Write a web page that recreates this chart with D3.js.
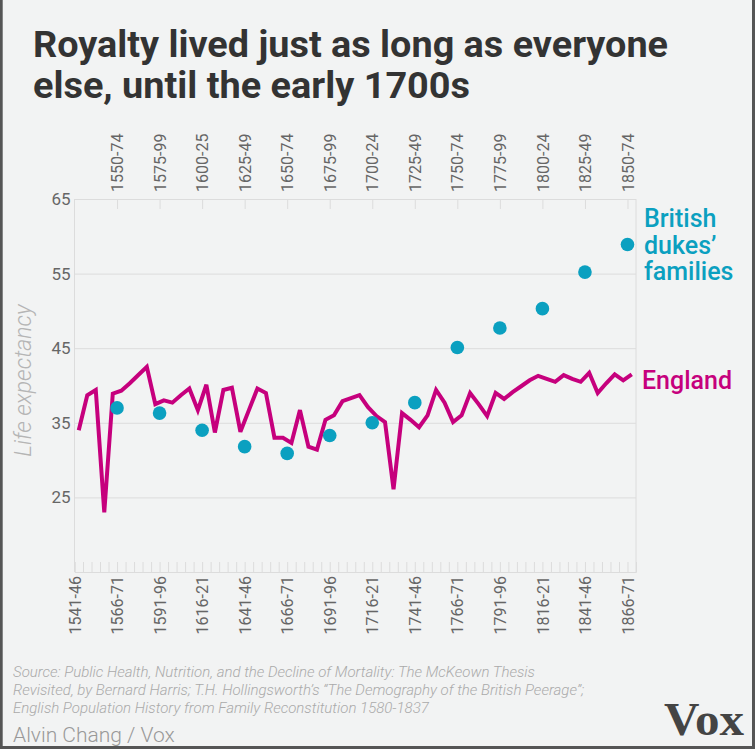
<!DOCTYPE html>
<html>
<head>
<meta charset="utf-8">
<script src="https://cdn.jsdelivr.net/npm/d3@7"></script>
<style>
  body { margin: 0; background: #f2f3f3; }
  svg { display: block; }
  .tick line { stroke: #dcdcdc; }
  .domain { stroke: #dcdcdc; }
</style>
</head>
<body>
<div id="chart"></div>
<script>
// Royalty vs England life expectancy

// England, life expectancy at birth, one value per 5-year period (1541-46 ... 1866-71)
var englandStart = 1541;
var englandValues = [
  34.0, 38.7, 39.4, 23.0, 38.9, 39.3, 40.3, 41.4, 42.5, 37.5,
  38.0, 37.7, 38.7, 39.6, 36.7, 40.1, 33.7, 39.4, 39.7, 33.8,
  36.7, 39.6, 39.0, 33.0, 33.0, 32.3, 36.7, 31.8, 31.4, 35.4,
  36.0, 37.9, 38.3, 38.7, 37.1, 35.9, 35.1, 26.1, 36.3, 35.4,
  34.4, 36.0, 39.4, 37.7, 35.1, 36.0, 39.0, 37.5, 35.9, 39.0,
  38.2, 39.1, 39.9, 40.7, 41.3, 40.9, 40.5, 41.4, 40.9, 40.5,
  41.7, 39.0, 40.3, 41.5, 40.7, 41.5
];

// British dukes' families, one value per 25-year cohort
var dukePeriods = ["1550-74", "1575-99", "1600-25", "1625-49", "1650-74", "1675-99",
  "1700-24", "1725-49", "1750-74", "1775-99", "1800-24", "1825-49", "1850-74"];
var dukeValues = [37.0, 36.3, 34.0, 31.8, 30.9, 33.3, 35.0, 37.7, 45.1, 47.7, 50.3, 55.2, 58.9];

var yTicks = [25, 35, 45, 55, 65];

var svgWidth = 755;
var svgHeight = 749;

var margin = { top: 199, right: 119, bottom: 177, left: 74.5 };
var width = svgWidth - margin.left - margin.right;
var height = svgHeight - margin.top - margin.bottom;

var teal = "#0ba0c0";
var magenta = "#c6007d";

var svg = d3.select("#chart")
  .append("svg")
  .attr("width", svgWidth)
  .attr("height", svgHeight);

svg.append("rect")
  .attr("width", svgWidth)
  .attr("height", svgHeight)
  .attr("fill", "#f2f3f3");

// frame (left, right, bottom)
svg.append("path")
  .attr("d", `M1.2,0 V${svgHeight - 1.5} H${svgWidth - 1.5} V0`)
  .attr("fill", "none")
  .attr("stroke", "#555")
  .attr("stroke-width", 3);

// title
svg.append("text")
  .attr("x", 33)
  .attr("y", 57)
  .attr("font-family", "Roboto, sans-serif")
  .attr("font-weight", 700)
  .attr("font-size", 36)
  .attr("textLength", 635)
  .attr("lengthAdjust", "spacingAndGlyphs")
  .attr("fill", "#333")
  .text("Royalty lived just as long as everyone");

svg.append("text")
  .attr("x", 33)
  .attr("y", 98)
  .attr("font-family", "Roboto, sans-serif")
  .attr("font-weight", 700)
  .attr("font-size", 36)
  .attr("textLength", 437)
  .attr("lengthAdjust", "spacingAndGlyphs")
  .attr("fill", "#333")
  .text("else, until the early 1700s");

var chartGroup = svg.append("g")
  .attr("transform", `translate(${margin.left}, ${margin.top})`);

// scales
var xScale = d3.scaleLinear()
  .domain([1541, 1871])
  .range([0, width]);

var yScale = d3.scaleLinear()
  .domain([15, 65])
  .range([height, 0]);

var xTop = d3.scalePoint()
  .domain(dukePeriods)
  .range([xScale(1566), xScale(1866)]);

// y grid + labels
var leftAxis = d3.axisLeft(yScale)
  .tickValues(yTicks)
  .tickSize(-width)
  .tickPadding(4);

chartGroup.append("g")
  .call(leftAxis)
  .call(g => g.select(".domain").remove())
  .call(g => g.selectAll("text")
    .attr("font-family", "Roboto, sans-serif")
    .attr("font-size", 17)
    .attr("fill", "#666"));

// box sides
chartGroup.append("line")
  .attr("x1", 0).attr("x2", 0)
  .attr("y1", 0).attr("y2", height)
  .attr("stroke", "#dcdcdc");

chartGroup.append("line")
  .attr("x1", width).attr("x2", width)
  .attr("y1", 0).attr("y2", height)
  .attr("stroke", "#dcdcdc");

// bottom axis: minor ticks every 5 years
var bottomMinor = d3.axisBottom(xScale)
  .tickValues(d3.range(1541, 1872, 5))
  .tickSize(-10)
  .tickFormat("");

chartGroup.append("g")
  .attr("transform", `translate(0, ${height})`)
  .call(bottomMinor);

// bottom labels every 25 years
var bottomAxis = d3.axisBottom(xScale)
  .tickValues(d3.range(1541, 1867, 25))
  .tickSize(0)
  .tickFormat(d => `${d}-${String(d + 5).slice(2)}`);

chartGroup.append("g")
  .attr("transform", `translate(0, ${height})`)
  .call(bottomAxis)
  .call(g => g.select(".domain").remove())
  .call(g => g.selectAll("text")
    .attr("transform", "rotate(-90)")
    .attr("x", -4)
    .attr("y", 0)
    .attr("dy", "0.35em")
    .attr("text-anchor", "end")
    .attr("font-family", "Roboto, sans-serif")
    .attr("font-size", 16)
    .attr("fill", "#666"));

// top axis: duke cohorts
var topAxis = d3.axisTop(xTop)
  .tickSize(-10);

chartGroup.append("g")
  .call(topAxis)
  .call(g => g.select(".domain").remove())
  .call(g => g.selectAll("text")
    .attr("transform", "rotate(-90)")
    .attr("x", 7)
    .attr("y", 0)
    .attr("dy", "0.35em")
    .attr("text-anchor", "start")
    .attr("font-family", "Roboto, sans-serif")
    .attr("font-size", 16)
    .attr("fill", "#666"));

// y axis title
chartGroup.append("text")
  .attr("transform", "rotate(-90)")
  .attr("x", -(yScale(35) + yScale(45)) / 2 + 5)
  .attr("y", -44)
  .attr("text-anchor", "middle")
  .attr("font-family", "Roboto, sans-serif")
  .attr("font-style", "italic")
  .attr("font-weight", 300)
  .attr("font-size", 23)
  .attr("fill", "#b5b5b5")
  .text("Life expectancy");

// England line
var englandData = englandValues.map((v, i) => ({ year: englandStart + i * 5 + 2.5, value: v }));

var line = d3.line()
  .x(d => xScale(d.year))
  .y(d => yScale(d.value));

chartGroup.append("path")
  .datum(englandData)
  .attr("d", line)
  .attr("fill", "none")
  .attr("stroke", magenta)
  .attr("stroke-width", 4)
  .attr("stroke-linejoin", "miter")
  .attr("stroke-miterlimit", 3);

// dukes dots
chartGroup.selectAll("circle")
  .data(dukePeriods)
  .enter()
  .append("circle")
  .attr("cx", d => xTop(d))
  .attr("cy", (d, i) => yScale(dukeValues[i]))
  .attr("r", 6.8)
  .attr("fill", teal);

// series labels
var dukeLabel = svg.append("text")
  .attr("font-family", "Roboto, sans-serif")
  .attr("font-weight", 500)
  .attr("font-size", 25)
  .attr("fill", teal);

["British", "dukes\u2019", "families"].forEach(function(t, i) {
  dukeLabel.append("tspan")
    .attr("x", 644)
    .attr("y", 227 + i * 26.5)
    .text(t);
});

svg.append("text")
  .attr("x", 642)
  .attr("y", 389)
  .attr("font-family", "Roboto, sans-serif")
  .attr("font-weight", 500)
  .attr("font-size", 25)
  .attr("fill", magenta)
  .text("England");

// footer
var sourceLines = [
  "Source: Public Health, Nutrition, and the Decline of Mortality: The McKeown Thesis",
  "Revisited, by Bernard Harris; T.H. Hollingsworth\u2019s \u201cThe Demography of the British Peerage\u201d;",
  "English Population History from Family Reconstitution 1580-1837"
];

sourceLines.forEach(function(t, i) {
  svg.append("text")
    .attr("x", 13)
    .attr("y", 677 + i * 18)
    .attr("font-family", "Roboto, sans-serif")
    .attr("font-style", "italic")
    .attr("font-weight", 300)
    .attr("font-size", 15)
    .attr("fill", "#aaa")
    .text(t);
});

svg.append("text")
  .attr("x", 13)
  .attr("y", 742)
  .attr("font-family", "Roboto, sans-serif")
  .attr("font-weight", 300)
  .attr("font-size", 21)
  .attr("fill", "#999")
  .text("Alvin Chang / Vox");

svg.append("text")
  .attr("x", 664)
  .attr("y", 735)
  .attr("font-family", "'Liberation Serif', serif")
  .attr("font-weight", 700)
  .attr("font-size", 46)
  .attr("textLength", 80)
  .attr("lengthAdjust", "spacingAndGlyphs")
  .attr("fill", "#444")
  .text("Vox");
</script>
</body>
</html>
